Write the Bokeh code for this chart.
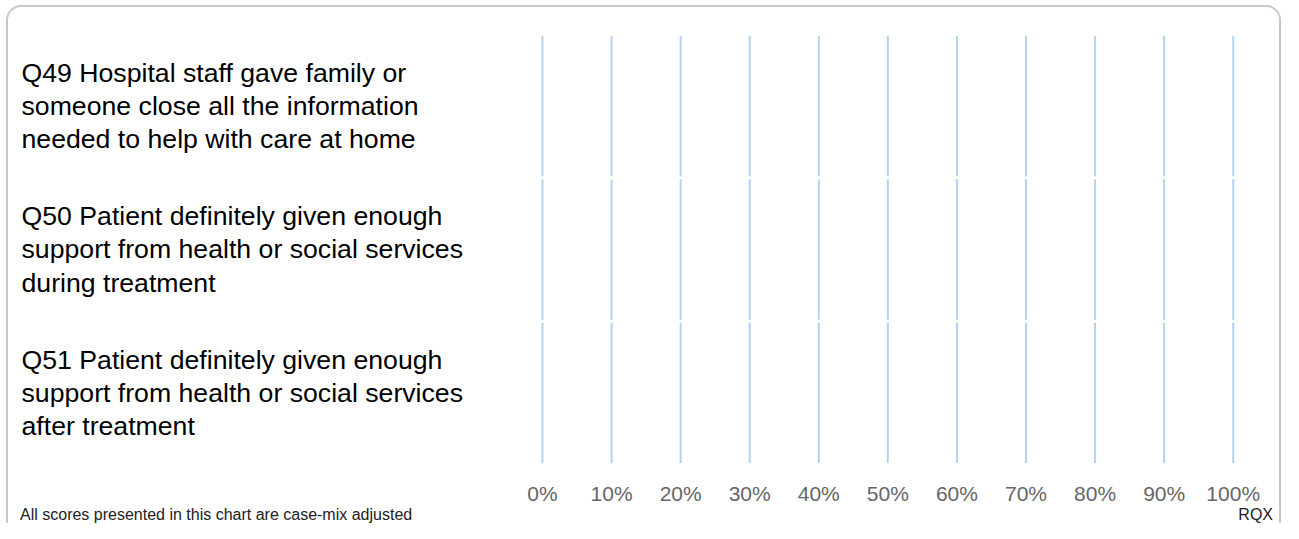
from bokeh.plotting import figure
from bokeh.layouts import column
from bokeh.models import FactorRange, Range1d, FixedTicker, ColumnDataSource, Div
from bokeh.core.properties import value
from bokeh.embed import file_html
from bokeh.resources import INLINE

# ---- data ----
questions = [
    "Q49 Hospital staff gave family or\nsomeone close all the information\nneeded to help with care at home",
    "Q50 Patient definitely given enough\nsupport from health or social services\nduring treatment",
    "Q51 Patient definitely given enough\nsupport from health or social services\nafter treatment",
]
tick_values = [0, 10, 20, 30, 40, 50, 60, 70, 80, 90, 100]
tick_labels = ["0%", "10%", "20%", "30%", "40%", "50%", "60%", "70%", "80%", "90%", "100%"]
footnote = "All scores presented in this chart are case-mix adjusted"
org_code = "RQX"

# ---- layout / style ----
FONT = "Liberation Sans"
W, H_FIG, H_FOOT = 1283, 507, 16
x_start, x_end = -77.02, 102.79

p = figure(
    width=W, height=H_FIG, output_backend="svg", toolbar_location=None,
    x_range=Range1d(x_start, x_end),
    y_range=FactorRange(factors=questions[::-1]),
    y_axis_location=None,
    min_border_left=10, min_border_right=31, min_border_top=34, min_border_bottom=40,
    outline_line_color=None, background_fill_color=None, border_fill_color=None,
)
p.xgrid.grid_line_color = None
p.ygrid.grid_line_color = None

# gridlines drawn row by row so that they break between the questions
seg = ColumnDataSource(dict(
    x=[t for q in questions for t in tick_values],
    y0=[(q, -0.4896) for q in questions for t in tick_values],
    y1=[(q, 0.4896) for q in questions for t in tick_values],
))
p.segment(x0="x", y0="y0", x1="x", y1="y1", source=seg, line_color="#b4d2f0", line_width=2)

# question labels
lab = ColumnDataSource(dict(x=[x_start] * len(questions), y=questions, text=questions))
p.text(x="x", y="y", text="text", source=lab, x_offset=11,
       text_align="left", text_baseline="middle",
       text_font=value(FONT), text_font_size="26.67px", text_line_height=1.11,
       text_color="#000000")

ax = p.xaxis[0]
ax.ticker = FixedTicker(ticks=tick_values)
ax.major_label_overrides = {t: l for t, l in zip(tick_values, tick_labels)}
ax.major_label_text_font = FONT
ax.major_label_text_font_size = "21px"
ax.major_label_text_color = "#666666"
ax.axis_line_color = None
ax.major_tick_line_color = None
ax.minor_tick_line_color = None
ax.major_label_standoff = 11

foot = Div(
    text=(f"<div style=\"display:flex;justify-content:space-between;box-sizing:border-box;"
          f"width:{W}px;height:{H_FOOT}px;padding:0 10px 0 20px;font-family:'{FONT}';"
          f"font-size:16px;line-height:{H_FOOT}px;color:#222222;white-space:nowrap;\">"
          f"<span>{footnote}</span><span>{org_code}</span></div>"),
    width=W, height=H_FOOT, margin=(0, 0, 0, 0),
)

panel_svg = ("<svg xmlns='http://www.w3.org/2000/svg' width='1283' height='523'>"
             "<rect x='7' y='6' width='1273' height='600' rx='14' ry='14' fill='none' "
             "stroke='%23c8c8c8' stroke-width='2'/></svg>")
layout = column(p, foot, spacing=0, styles={
    "background-color": "white",
    "background-image": f"url(\"data:image/svg+xml;utf8,{panel_svg}\")",
    "background-repeat": "no-repeat",
})

open("out.html", "w").write(file_html(layout, INLINE))
